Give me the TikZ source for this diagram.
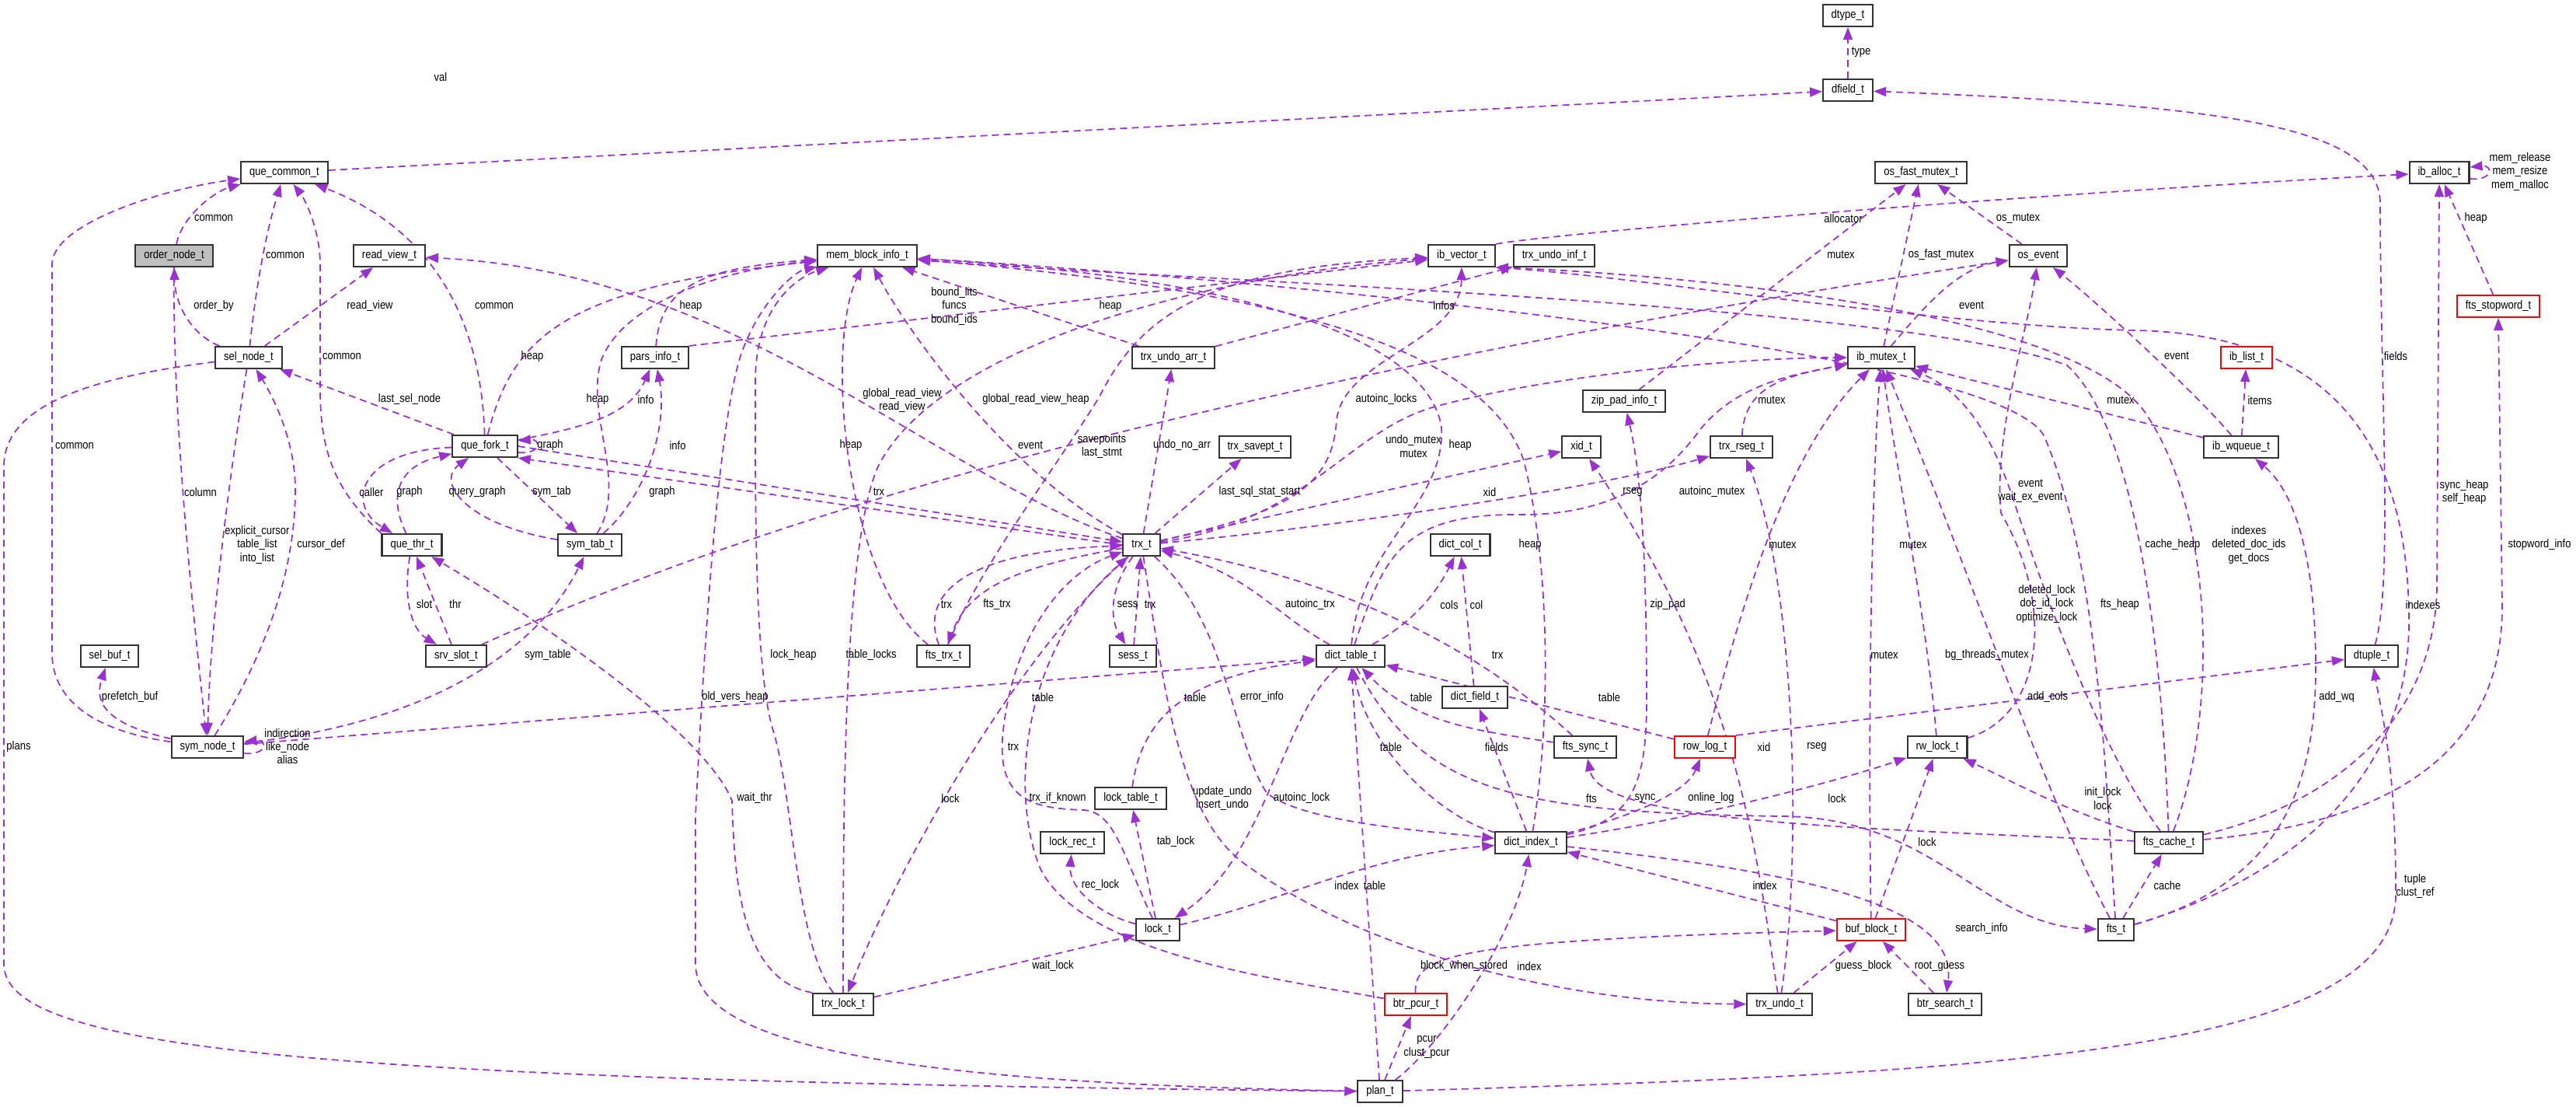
\documentclass[tikz,border=0pt]{standalone}
\usepackage{fontspec}
\setmainfont[FakeStretch=0.86]{Liberation Sans}
\usetikzlibrary{arrows.meta, backgrounds}
\definecolor{relcol}{RGB}{154,50,205}
\definecolor{boxgray}{RGB}{191,191,191}
\newcommand{\dxsize}{\fontsize{4.3}{4.9}\selectfont}

\begin{document}
\begin{tikzpicture}[x=1cm, y=-1cm,
        cls/.style={rectangle, draw=black!80, fill=white, line width=0.6pt, minimum height=0.28cm, inner xsep=0.11cm, inner ysep=0pt, font=\dxsize},
        clsred/.style={cls, draw=red},
        rel/.style={draw=relcol, line width=0.5pt, dash pattern=on 0.09cm off 0.06cm, -{Triangle[length=0.16cm, width=0.12cm]}},
        lbl/.style={font=\dxsize, inner sep=0pt, align=center}]

    \useasboundingbox (0,0) rectangle (33.15,14.24);

    % Clases
    \node[cls] (dtype) at (23.78,0.20) {dtype\_t};
    \node[cls] (dfield) at (23.78,1.16) {dfield\_t};
    \node[cls] (quecommon) at (3.66,2.22) {que\_common\_t};
    \node[cls] (osfast) at (24.72,2.22) {os\_fast\_mutex\_t};
    \node[cls] (iballoc) at (31.39,2.22) {ib\_alloc\_t};
    \node[cls, fill=boxgray] (ordernode) at (2.24,3.29) {order\_node\_t};
    \node[cls] (readview) at (5.01,3.29) {read\_view\_t};
    \node[cls] (memblock) at (11.16,3.29) {mem\_block\_info\_t};
    \node[cls] (ibvector) at (18.81,3.29) {ib\_vector\_t};
    \node[cls] (undoinf) at (20.00,3.29) {trx\_undo\_inf\_t};
    \node[cls] (osevent) at (26.23,3.29) {os\_event};
    \node[clsred] (stopword) at (32.15,3.94) {fts\_stopword\_t};
    \node[cls] (selnode) at (3.20,4.60) {sel\_node\_t};
    \node[cls] (parsinfo) at (8.43,4.60) {pars\_info\_t};
    \node[cls] (undoarr) at (15.10,4.60) {trx\_undo\_arr\_t};
    \node[cls] (ibmutex) at (24.21,4.60) {ib\_mutex\_t};
    \node[clsred] (iblist) at (28.91,4.60) {ib\_list\_t};
    \node[cls] (zippad) at (20.90,5.16) {zip\_pad\_info\_t};
    \node[cls] (quefork) at (6.24,5.74) {que\_fork\_t};
    \node[cls] (savept) at (16.15,5.75) {trx\_savept\_t};
    \node[cls] (xid) at (20.35,5.75) {xid\_t};
    \node[cls] (rseg) at (22.41,5.75) {trx\_rseg\_t};
    \node[cls] (wqueue) at (28.84,5.75) {ib\_wqueue\_t};
    \node[cls] (quethr) at (5.30,7.01) {que\_thr\_t};
    \node[cls] (symtab) at (7.59,7.01) {sym\_tab\_t};
    \node[cls] (trx) at (14.69,7.01) {trx\_t};
    \node[cls] (dictcol) at (18.79,7.01) {dict\_col\_t};
    \node[cls] (selbuf) at (1.41,8.44) {sel\_buf\_t};
    \node[cls] (srvslot) at (5.87,8.44) {srv\_slot\_t};
    \node[cls] (ftstrx) at (12.14,8.44) {fts\_trx\_t};
    \node[cls] (sess) at (14.58,8.44) {sess\_t};
    \node[cls] (dicttable) at (17.38,8.44) {dict\_table\_t};
    \node[cls] (dtuple) at (30.52,8.44) {dtuple\_t};
    \node[cls] (dictfield) at (18.98,8.97) {dict\_field\_t};
    \node[cls] (symnode) at (2.67,9.61) {sym\_node\_t};
    \node[cls] (ftssync) at (20.40,9.61) {fts\_sync\_t};
    \node[clsred] (rowlog) at (21.94,9.61) {row\_log\_t};
    \node[cls] (rwlock) at (24.93,9.61) {rw\_lock\_t};
    \node[cls] (locktable) at (14.55,10.27) {lock\_table\_t};
    \node[cls] (lockrec) at (13.80,10.84) {lock\_rec\_t};
    \node[cls] (dictindex) at (19.70,10.84) {dict\_index\_t};
    \node[cls] (ftscache) at (27.91,10.84) {fts\_cache\_t};
    \node[cls] (lock) at (14.90,11.96) {lock\_t};
    \node[clsred] (bufblock) at (24.08,11.96) {buf\_block\_t};
    \node[cls] (fts) at (27.23,11.96) {fts\_t};
    \node[cls] (trxlock) at (10.85,12.92) {trx\_lock\_t};
    \node[clsred] (btrpcur) at (18.22,12.92) {btr\_pcur\_t};
    \node[cls] (undo) at (22.90,12.92) {trx\_undo\_t};
    \node[cls] (btrsearch) at (25.03,12.92) {btr\_search\_t};
    \node[cls] (plan) at (17.76,14.04) {plan\_t};

    \begin{scope}[on background layer]
        \fill[white] (0,0) rectangle (33.15,14.24);

        % que_common_t y vecinos
        \draw[rel] (dfield) -- (dtype);
        \draw[rel] (quecommon) -- (dfield);
        \draw[rel] (ordernode) .. controls (2.35,2.75) and (2.8,2.45) .. (quecommon);
        \draw[rel] (selnode) .. controls (3.3,3.6) and (3.45,2.9) .. (quecommon);
        \draw[rel] (quethr.north west) .. controls (4.3,6.3) and (4.12,5.8) .. (4.12,5.0) -- (4.12,3.4) .. controls (4.12,3.0) and (3.95,2.6) .. (quecommon);
        \draw[rel] (quefork) .. controls (6.2,4.3) and (5.7,3.0) .. (quecommon);
        \draw[rel] (symnode) .. controls (1.2,9.4) and (0.67,9.0) .. (0.67,8.4) -- (0.67,3.4) .. controls (0.67,2.9) and (2.0,2.45) .. (quecommon);
        \draw[rel] (selnode) .. controls (2.45,4.3) and (2.25,3.9) .. (ordernode);
        \draw[rel] (selnode) -- (readview);
        \draw[rel] (quefork) -- (selnode);
        \draw[rel] (selnode) .. controls (1.2,4.85) and (0.05,5.2) .. (0.05,6.0) -- (0.05,12.4) .. controls (0.05,13.5) and (4,13.9) .. (plan);
        \draw[rel] (ordernode) .. controls (2.22,5.5) and (2.5,8.0) .. (symnode);
        \draw[rel] (selnode) .. controls (3.0,5.8) and (2.7,8.0) .. (symnode);
        \draw[rel] (symnode) .. controls (3.3,8.6) and (3.8,7.5) .. (3.8,6.3) .. controls (3.8,5.6) and (3.45,5.0) .. (selnode);
        \draw[rel] (symnode) .. controls (1.3,9.3) and (1.22,9.0) .. (selbuf);
        \draw[rel] ([yshift=-0.08cm]symnode.east) .. controls +(0.3,0.03) and +(0.3,-0.03) .. ([yshift=0.07cm]symnode.east);
        \draw[rel] (symnode) -- (dicttable);
        \draw[rel] (symnode) .. controls (5.5,9.3) and (6.9,8.4) .. (symtab);

        % que_fork_t, que_thr_t, sym_tab_t
        \draw[rel] ([yshift=-0.08cm]quefork.east) .. controls +(0.3,0.03) and +(0.3,-0.03) .. ([yshift=0.07cm]quefork.east);
        \draw[rel] (quefork) .. controls (6.6,4.3) and (7.3,3.7) .. (memblock);
        \draw[rel] (quefork) -- (symtab);
        \draw[rel] (symtab) .. controls (6.0,6.75) and (5.6,6.2) .. (quefork);
        \draw[rel] (quethr) .. controls (5.0,6.4) and (5.1,6.0) .. (quefork);
        \draw[rel] (quefork) .. controls (4.6,5.8) and (4.45,6.5) .. (quethr);
        \draw[rel] (srvslot) -- (quethr);
        \draw[rel] (quethr) .. controls (5.18,7.7) and (5.3,8.1) .. (srvslot);
        \draw[rel] (trxlock.north west) .. controls (9.5,12.6) and (9.45,11.2) .. (9.42,10.3) .. controls (9.1,9.5) and (7.3,8.2) .. (quethr);
        \draw[rel] (trx.west) -- (quefork.south east);
        \draw[rel] (quefork.east) -- ([yshift=0.04cm]trx.west);
        \draw[rel] (quefork) .. controls (7.5,5.5) and (8.1,5.35) .. (parsinfo);
        \draw[rel] (symtab) .. controls (8.3,6.4) and (8.6,5.5) .. (parsinfo);
        \draw[rel] (parsinfo) .. controls (8.5,3.7) and (9.0,3.45) .. (memblock);
        \draw[rel] (parsinfo.north east) -- (ibvector);
        \draw[rel] (symtab) .. controls (8.1,6.2) and (7.5,5.3) .. (7.75,4.6) .. controls (8.1,3.8) and (9.5,3.45) .. (memblock);
        \draw[rel] (srvslot) .. controls (9.5,6.8) and (15,5.0) .. (osevent);

        % trx_t
        \draw[rel] (trx) .. controls (13.0,6.1) and (11.7,4.3) .. (memblock);
        \draw[rel] (trx) .. controls (12,6.1) and (9.5,3.5) .. (readview);
        \draw[rel] (trxlock) .. controls (10.25,12.2) and (10.2,10.2) .. (9.95,9.4) .. controls (9.7,8.6) and (9.72,6.2) .. (9.72,4.9) .. controls (9.72,3.9) and (10.3,3.55) .. (memblock);
        \draw[rel] (trxlock) .. controls (10.85,10.5) and (10.85,7.0) .. (11.3,6.0) .. controls (12.0,4.6) and (15,3.6) .. (ibvector);
        \draw[rel] (trxlock) -- (lock);
        \draw[rel] (trx) .. controls (13.0,8.5) and (11.5,11.3) .. (trxlock);
        \draw[rel] (plan) .. controls (12.5,13.95) and (8.95,13.6) .. (8.95,12.4) -- (8.95,10.5) .. controls (9.1,7.5) and (9.3,5.0) .. (9.6,4.4) .. controls (9.8,3.9) and (10.2,3.5) .. (memblock);
        \draw[rel] (trx) .. controls (14.25,7.6) and (14.3,8.0) .. (sess);
        \draw[rel] (sess) -- (trx);
        \draw[rel] (ftstrx) .. controls (11.85,7.7) and (12.3,7.1) .. (trx);
        \draw[rel] (trx) .. controls (13.0,7.3) and (12.45,7.6) .. (ftstrx);
        \draw[rel] (ftstrx) .. controls (10.9,7.5) and (10.6,4.5) .. (memblock);
        \draw[rel] (ftstrx) .. controls (12.6,7.3) and (13.6,6.0) .. (14.15,5.1) .. controls (14.7,4.0) and (15.6,3.45) .. (ibvector);
        \draw[rel] (trx) -- (undoarr);
        \draw[rel] (undoarr) -- (memblock);
        \draw[rel] (undoarr) -- (undoinf);
        \draw[rel] (trx) .. controls (16.5,6.6) and (17.15,6.3) .. (17.2,5.4) .. controls (17.3,4.6) and (18.8,4.4) .. (ibvector);
        \draw[rel] (trx) .. controls (16.8,6.7) and (17.3,5.6) .. (18.4,5.25) .. controls (20,4.8) and (22.5,4.6) .. (ibmutex);
        \draw[rel] (trx) -- (xid);
        \draw[rel] (trx) -- (savept);
        \draw[rel] (trx) .. controls (17,6.8) and (20.5,6.3) .. (rseg);

        % dict_table_t y dict_index_t
        \draw[rel] (dicttable) .. controls (17.5,7.0) and (18.6,6.5) .. (18.55,5.5) .. controls (18.4,4.5) and (16.5,3.6) .. (memblock);
        \draw[rel] (dictindex) .. controls (20.0,9.0) and (19.9,7.0) .. (19.6,5.9) .. controls (19.2,4.8) and (17.5,3.8) .. (memblock);
        \draw[rel] (dicttable) .. controls (17.8,7.2) and (18.0,6.62) .. (19.5,6.62) .. controls (21.0,6.65) and (21.6,5.9) .. (21.9,5.5) .. controls (22.4,4.9) and (23.2,4.8) .. (ibmutex);
        \draw[rel] (dicttable) .. controls (16.4,7.9) and (16.1,7.4) .. (trx);
        \draw[rel] (dicttable) .. controls (18.2,8.0) and (18.5,7.6) .. (dictcol);
        \draw[rel] (dictfield) -- (dictcol);
        \draw[rel] (dictindex) -- (dictfield);
        \draw[rel] (dictindex) .. controls (18.5,10.5) and (17.6,9.6) .. (dicttable);
        \draw[rel] (locktable) .. controls (14.7,9.2) and (15.3,8.7) .. (dicttable);
        \draw[rel] (dicttable) .. controls (18.3,10.2) and (19.5,10.45) .. (22.9,10.5) .. controls (24.9,10.5) and (25.5,11.9) .. (fts);
        \draw[rel] (dicttable) .. controls (16.5,9.2) and (16.3,11.0) .. (lock);
        \draw[rel] (trx) .. controls (15.8,8.0) and (15.85,9.5) .. (16.3,10.2) .. controls (16.8,10.6) and (18.5,10.7) .. (dictindex);
        \draw[rel] (trx) .. controls (15.0,9.0) and (15.2,10.5) .. (16.0,11.1) .. controls (17.5,12.2) and (20.0,12.9) .. (undo);
        \draw[rel] (plan) -- (dicttable);
        \draw[rel] (ftssync) .. controls (19,9.4) and (18.2,9.3) .. (dicttable);
        \draw[rel] (ftssync) .. controls (19.5,8.8) and (18.0,7.6) .. (trx);
        \draw[rel] (rowlog) -- (dicttable);

        % lock_t
        \draw[rel] (lock) -- (locktable);
        \draw[rel] (lock) .. controls (14.1,11.75) and (13.75,11.4) .. (lockrec);
        \draw[rel] (lock) .. controls (14.45,11.0) and (14.35,10.45) .. (13.95,10.42) .. controls (13.3,10.4) and (12.85,10.3) .. (12.9,9.5) .. controls (13.0,8.3) and (13.6,7.4) .. (trx);
        \draw[rel] (lock) .. controls (16.5,11.6) and (17.6,11.0) .. (dictindex);
        \draw[rel] (btrpcur) .. controls (16.5,12.6) and (14.0,12.3) .. (13.4,11.2) .. controls (13.0,10.3) and (13.1,8.4) .. (trx);

        % mutex y eventos
        \draw[rel] (rseg) .. controls (22.45,5.0) and (22.9,4.85) .. (ibmutex);
        \draw[rel] (rowlog) .. controls (22.4,7.8) and (23.0,5.8) .. (ibmutex);
        \draw[rel] (bufblock) .. controls (24.03,9.0) and (24.1,6.0) .. (ibmutex);
        \draw[rel] (rwlock) .. controls (24.8,8.0) and (24.4,6.0) .. (ibmutex);
        \draw[rel] (fts) .. controls (26.3,10.2) and (25.4,7.5) .. (ibmutex);
        \draw[rel] (ftscache) .. controls (27.0,9.6) and (26.3,7.6) .. (25.9,6.4) .. controls (25.6,5.5) and (25.2,5.0) .. (ibmutex);
        \draw[rel] (wqueue) -- (ibmutex);
        \draw[rel] (wqueue) -- (iblist);
        \draw[rel] (wqueue) .. controls (28.3,5.1) and (27.0,3.9) .. (osevent);
        \draw[rel] (rwlock) .. controls (26.3,9.2) and (26.45,7.8) .. (25.75,6.6) .. controls (25.65,5.6) and (26.1,4.2) .. (osevent);
        \draw[rel] (ibmutex) .. controls (24.8,3.9) and (25.2,3.45) .. (osevent);
        \draw[rel] (ibmutex) -- (osfast);
        \draw[rel] (osevent) -- (osfast);
        \draw[rel] (zippad) -- (osfast);
        \draw[rel] (ibvector.north east) .. controls (20.0,3.0) and (26.0,2.5) .. (iballoc);
        \draw[rel] ([yshift=-0.08cm]iballoc.east) .. controls +(0.3,0.03) and +(0.3,-0.03) .. ([yshift=0.07cm]iballoc.east);
        \draw[rel] (stopword) -- (iballoc);

        % fts
        \draw[rel] (ftscache) .. controls (29.8,10.4) and (31.36,9.4) .. (31.36,7.5) -- (iballoc.south);
        \draw[rel] (ftscache) .. controls (30.6,10.6) and (32.2,9.8) .. (32.2,7.8) -- (stopword.south);
        \draw[rel] (dtuple) .. controls (30.8,7.5) and (30.63,5.0) .. (30.63,2.6) .. controls (30.6,1.6) and (28.5,1.35) .. (dfield);
        \draw[rel] (ftscache) .. controls (28.55,9.2) and (28.5,6.6) .. (27.6,5.3) .. controls (26.6,3.9) and (21.0,3.5) .. (ibvector.south east);
        \draw[rel] (fts) .. controls (29.5,11.3) and (31.0,10.0) .. (31.0,8.0) .. controls (31.0,5.2) and (29.5,4.3) .. (27.5,4.25) .. controls (25,4.2) and (21.0,3.55) .. (ibvector.south east);
        \draw[rel] (fts) -- (ftscache);
        \draw[rel] (ftscache) .. controls (26.5,10.4) and (25.8,10.0) .. (rwlock);
        \draw[rel] (ftscache) .. controls (27.85,9.0) and (27.6,5.6) .. (26.6,4.7) .. controls (24.5,3.9) and (15,3.6) .. (memblock);
        \draw[rel] (fts) .. controls (27.1,10.0) and (27.0,7.2) .. (26.3,5.6) .. controls (25.6,4.4) and (15,3.5) .. (memblock);
        \draw[rel] (fts) .. controls (29.2,11.4) and (29.8,10.3) .. (29.8,8.6) .. controls (29.8,7.1) and (29.5,6.3) .. (wqueue);
        \draw[rel] (ftscache) .. controls (24,10.65) and (20.6,10.6) .. (ftssync);

        % buf_block_t, btr_pcur_t, plan_t
        \draw[rel] (bufblock) -- (dictindex);
        \draw[rel] (btrsearch) -- (bufblock);
        \draw[rel] (undo) -- (bufblock);
        \draw[rel] (btrpcur) .. controls (18.2,12.3) and (18.6,12.1) .. (bufblock);
        \draw[rel] (dictindex) .. controls (23,11.2) and (25.2,11.6) .. (btrsearch);
        \draw[rel] (undo) .. controls (23.2,11.0) and (23.1,7.5) .. (rseg);
        \draw[rel] (undo) .. controls (22.6,11.0) and (22.4,8.8) .. (xid);
        \draw[rel] (plan) .. controls (18.6,13.4) and (19.5,12.0) .. (dictindex);
        \draw[rel] (plan) -- (btrpcur);
        \draw[rel] (dictindex) .. controls (22.0,10.5) and (23.8,10.0) .. (rwlock);
        \draw[rel] (dictindex) .. controls (21.0,10.5) and (21.7,10.2) .. (rowlog);
        \draw[rel] (dictindex) .. controls (21.0,10.55) and (21.19,10.1) .. (21.19,9.0) .. controls (21.19,7.0) and (21.1,6.0) .. (zippad);
        \draw[rel] (bufblock) -- (rwlock);
        \draw[rel] (rowlog.north east) -- (dtuple);
        \draw[rel] (plan) .. controls (26,13.8) and (30.83,13.5) .. (30.83,11.5) .. controls (30.83,9.8) and (30.65,9.2) .. (dtuple);
    \end{scope}

    % Etiquetas
    \node[lbl] (lb1) at (23.95,0.67) {type};
    \node[lbl] (lb2) at (5.67,0.99) {val};
    \node[lbl] (lb3) at (2.75,2.81) {common};
    \node[lbl] (lb4) at (3.67,3.29) {common};
    \node[lbl] (lb5) at (4.40,4.59) {common};
    \node[lbl] (lb6) at (6.36,3.94) {common};
    \node[lbl] (lb7) at (0.96,5.74) {common};
    \node[lbl] (lb8) at (2.75,3.94) {order\_by};
    \node[lbl] (lb9) at (4.76,3.94) {read\_view};
    \node[lbl] (lb10) at (5.27,5.14) {last\_sel\_node};
    \node[lbl] (lb11) at (6.85,4.59) {heap};
    \node[lbl] (lb12) at (7.08,5.73) {graph};
    \node[lbl] (lb13) at (8.31,5.14) {info};
    \node[lbl] (lb14) at (8.72,5.73) {info};
    \node[lbl] (lb15) at (8.89,3.94) {heap};
    \node[lbl] (lb16) at (7.69,5.14) {heap};
    \node[lbl] (lb17) at (12.28,3.94) {bound\_lits\\funcs\\bound\_ids};
    \node[lbl] (lb18) at (11.61,5.15) {global\_read\_view\\read\_view};
    \node[lbl] (lb19) at (13.33,5.14) {global\_read\_view\_heap};
    \node[lbl] (lb20) at (13.26,5.73) {event};
    \node[lbl] (lb21) at (10.95,5.73) {heap};
    \node[lbl] (lb22) at (14.29,3.94) {heap};
    \node[lbl] (lb23) at (18.58,3.93) {infos};
    \node[lbl] (lb24) at (17.84,5.14) {autoinc\_locks};
    \node[lbl] (lb25) at (14.18,5.74) {savepoints\\last\_stmt};
    \node[lbl] (lb26) at (15.21,5.73) {undo\_no\_arr};
    \node[lbl] (lb27) at (18.19,5.74) {undo\_mutex\\mutex};
    \node[lbl] (lb28) at (18.79,5.73) {heap};
    \node[lbl] (lb29) at (7.10,6.33) {sym\_tab};
    \node[lbl] (lb30) at (6.14,6.33) {query\_graph};
    \node[lbl] (lb31) at (5.27,6.33) {graph};
    \node[lbl] (lb32) at (4.78,6.33) {caller};
    \node[lbl] (lb33) at (8.52,6.33) {graph};
    \node[lbl] (lb34) at (11.31,6.33) {trx};
    \node[lbl] (lb35) at (5.46,7.77) {slot};
    \node[lbl] (lb36) at (5.86,7.77) {thr};
    \node[lbl] (lb37) at (7.05,8.43) {sym\_table};
    \node[lbl] (lb38) at (9.71,10.27) {wait\_thr};
    \node[lbl] (lb39) at (9.46,8.97) {old\_vers\_heap};
    \node[lbl] (lb40) at (10.21,8.43) {lock\_heap};
    \node[lbl] (lb41) at (11.21,8.43) {table\_locks};
    \node[lbl] (lb42) at (12.18,7.78) {trx};
    \node[lbl] (lb43) at (12.83,7.78) {fts\_trx};
    \node[lbl] (lb44) at (14.51,7.78) {sess};
    \node[lbl] (lb45) at (14.80,7.78) {trx};
    \node[lbl] (lb46) at (16.21,6.33) {last\_sql\_stat\_start};
    \node[lbl] (lb47) at (19.17,6.33) {xid};
    \node[lbl] (lb48) at (16.86,7.78) {autoinc\_trx};
    \node[lbl] (lb49) at (18.65,7.78) {cols};
    \node[lbl] (lb50) at (19.00,7.78) {col};
    \node[lbl] (lb51) at (19.69,7.01) {heap};
    \node[lbl] (lb52) at (19.27,8.43) {trx};
    \node[lbl] (lb53) at (13.42,8.97) {table};
    \node[lbl] (lb54) at (15.38,8.97) {table};
    \node[lbl] (lb55) at (16.24,8.97) {error\_info};
    \node[lbl] (lb56) at (18.29,8.97) {table};
    \node[lbl] (lb57) at (13.04,9.61) {trx};
    \node[lbl] (lb58) at (17.90,9.61) {table};
    \node[lbl] (lb59) at (19.26,9.61) {fields};
    \node[lbl] (lb60) at (15.73,10.27) {update\_undo\\insert\_undo};
    \node[lbl] (lb61) at (16.75,10.27) {autoinc\_lock};
    \node[lbl] (lb62) at (13.61,10.27) {trx\_if\_known};
    \node[lbl] (lb63) at (12.23,10.27) {lock};
    \node[lbl] (lb64) at (15.13,10.83) {tab\_lock};
    \node[lbl] (lb65) at (14.16,11.39) {rec\_lock};
    \node[lbl] (lb66) at (13.55,12.43) {wait\_lock};
    \node[lbl] (lb67) at (0.24,9.61) {plans};
    \node[lbl] (lb68) at (2.58,6.33) {column};
    \node[lbl] (lb69) at (3.31,7.01) {explicit\_cursor\\table\_list\\into\_list};
    \node[lbl] (lb70) at (4.13,7.01) {cursor\_def};
    \node[lbl] (lb71) at (1.67,8.97) {prefetch\_buf};
    \node[lbl] (lb72) at (3.70,9.60) {indirection\\like\_node\\alias};
    \node[lbl] (lb73) at (21.01,6.33) {rseg};
    \node[lbl] (lb74) at (22.03,6.33) {autoinc\_mutex};
    \node[lbl] (lb75) at (22.80,5.15) {mutex};
    \node[lbl] (lb76) at (22.94,7.01) {mutex};
    \node[lbl] (lb77) at (24.62,7.01) {mutex};
    \node[lbl] (lb78) at (21.46,7.78) {zip\_pad};
    \node[lbl] (lb79) at (24.25,8.43) {mutex};
    \node[lbl] (lb80) at (25.57,8.43) {bg\_threads\_mutex};
    \node[lbl] (lb81) at (20.71,8.97) {table};
    \node[lbl] (lb82) at (22.70,9.61) {xid};
    \node[lbl] (lb83) at (23.38,9.61) {rseg};
    \node[lbl] (lb84) at (25.37,3.93) {event};
    \node[lbl] (lb85) at (24.98,3.28) {os\_fast\_mutex};
    \node[lbl] (lb86) at (23.69,3.28) {mutex};
    \node[lbl] (lb87) at (23.72,2.81) {allocator};
    \node[lbl] (lb88) at (25.97,2.81) {os\_mutex};
    \node[lbl] (lb89) at (32.43,2.21) {mem\_release\\mem\_resize\\mem\_malloc};
    \node[lbl] (lb90) at (31.86,2.81) {heap};
    \node[lbl] (lb91) at (28.01,4.58) {event};
    \node[lbl] (lb92) at (29.08,5.15) {items};
    \node[lbl] (lb93) at (27.29,5.15) {mutex};
    \node[lbl] (lb94) at (31.71,6.33) {sync\_heap\\self\_heap};
    \node[lbl] (lb95) at (32.68,7.01) {stopword\_info};
    \node[lbl] (lb96) at (28.94,7.01) {indexes\\deleted\_doc\_ids\\get\_docs};
    \node[lbl] (lb97) at (27.96,7.01) {cache\_heap};
    \node[lbl] (lb98) at (27.28,7.78) {fts\_heap};
    \node[lbl] (lb99) at (31.18,7.78) {indexes};
    \node[lbl] (lb100) at (30.07,8.97) {add\_wq};
    \node[lbl] (lb101) at (26.35,8.97) {add\_cols};
    \node[lbl] (lb102) at (26.34,7.77) {deleted\_lock\\doc\_id\_lock\\optimize\_lock};
    \node[lbl] (lb103) at (26.13,6.32) {event\\wait\_ex\_event};
    \node[lbl] (lb104) at (30.83,4.58) {fields};
    \node[lbl] (lb105) at (20.48,10.27) {fts};
    \node[lbl] (lb106) at (21.17,10.27) {sync};
    \node[lbl] (lb107) at (22.02,10.27) {online\_log};
    \node[lbl] (lb108) at (23.64,10.27) {lock};
    \node[lbl] (lb109) at (27.06,10.27) {init\_lock\\lock};
    \node[lbl] (lb110) at (24.80,10.83) {lock};
    \node[lbl] (lb111) at (17.33,11.39) {index};
    \node[lbl] (lb112) at (17.69,11.39) {table};
    \node[lbl] (lb113) at (22.71,11.39) {index};
    \node[lbl] (lb114) at (27.89,11.39) {cache};
    \node[lbl] (lb115) at (25.50,11.95) {search\_info};
    \node[lbl] (lb116) at (18.84,12.43) {block\_when\_stored};
    \node[lbl] (lb117) at (19.68,12.43) {index};
    \node[lbl] (lb118) at (23.98,12.43) {guess\_block};
    \node[lbl] (lb119) at (24.96,12.43) {root\_guess};
    \node[lbl] (lb120) at (18.36,13.47) {pcur\\clust\_pcur};
    \node[lbl] (lb121) at (31.08,11.40) {tuple\\clust\_ref};
\end{tikzpicture}
\end{document}
